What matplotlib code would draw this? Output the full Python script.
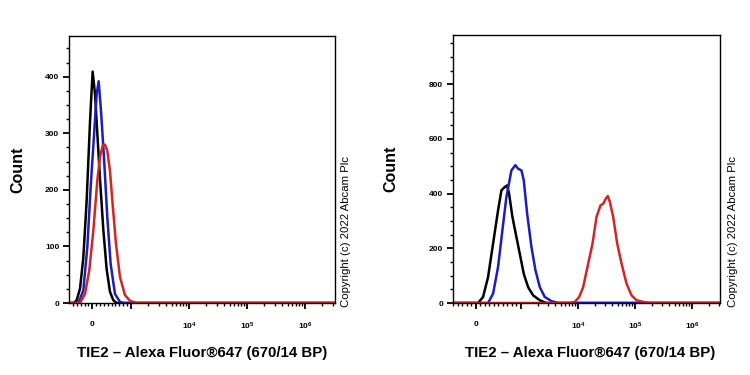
import matplotlib
matplotlib.use("Agg")
import matplotlib.pyplot as plt
import numpy as np

plt.rcParams['font.family'] = ['Liberation Sans', 'DejaVu Sans']
plt.rcParams['mathtext.fontset'] = 'custom'
plt.rcParams['mathtext.rm'] = 'Liberation Sans'
plt.rcParams['mathtext.bf'] = 'Liberation Sans:bold'

# ---- Data: left panel (fluorescence value, count) ----
left_black_x = [-602, -473, -404, -318, -232, -146, -59, 9, 70, 130, 199, 285, 371, 457, 543, 630, 3.29e6]
left_black_y = [0, 0, 5, 25, 80, 180, 320, 409, 370, 300, 220, 130, 60, 20, 5, 0, 0]
left_blue_x = [-602, -361, -232, -128, -42, 53, 113, 165, 225, 302, 388, 475, 587, 716, 819, 3.29e6]
left_blue_y = [0, 0, 22, 99, 205, 305, 369, 392, 340, 258, 152, 69, 16, 2, 0, 0]
left_red_x = [-602, -318, -189, -77, 27, 130, 199, 268, 328, 388, 457, 526, 612, 716, 845, 974, 1256, 3.29e6]
left_red_y = [0, 0, 16, 58, 128, 216, 258, 278, 280, 269, 234, 175, 105, 46, 14, 4, 0, 0]

# ---- Data: right panel ----
right_black_x = [-504, 52, 163, 274, 385, 496, 570, 644, 696, 740, 814, 903, 992, 1127, 1343, 1644, 2153, 2818, 3.1e6]
right_black_y = [0, 0, 22, 95, 217, 339, 412, 424, 430, 400, 315, 241, 168, 107, 58, 28, 10, 0, 0]
right_blue_x = [-504, 274, 385, 496, 592, 681, 792, 881, 940, 1026, 1127, 1291, 1537, 1806, 2153, 2634, 3448, 4511, 3.1e6]
right_blue_y = [0, 0, 34, 132, 266, 388, 485, 504, 491, 485, 449, 327, 205, 120, 58, 22, 7, 0, 0]
right_red_x = [-504, 7230, 8850, 10540, 12390, 15170, 18070, 21230, 24950, 27800, 30960, 33570, 36390,
               41590, 48980, 58340, 71300, 87300, 106900, 140000, 183200, 3.1e6]
right_red_y = [0, 0, 4, 22, 58, 144, 217, 315, 357, 363, 382, 391, 370,
               315, 217, 144, 71, 28, 10, 4, 0, 0]

xlabel = "TIE2 \u2013 Alexa Fluor\u00ae647 (670/14 BP)"
ylabel = "Count"
copyright_text = "Copyright (c) 2022 Abcam Plc"
xtick_vals = [0, 1e4, 1e5, 1e6]
xtick_labels = ['0', r'$\mathbf{10^{4}}$', r'$\mathbf{10^{5}}$', r'$\mathbf{10^{6}}$']

fig = plt.figure(figsize=(7.5, 3.75), dpi=100)
W, H = 750.0, 375.0

def make_ax(x0, x1, y0, y1):
    return fig.add_axes([x0 / W, 1 - y1 / H, (x1 - x0) / W, (y1 - y0) / H])

panels = [
    dict(box=(69, 335, 36, 303), linscale=0.6, xlim=(-602, 3.29e6), ylim=(0, 472),
         yticks=[0, 100, 200, 300, 400], yminor=25,
         curves=[(left_black_x, left_black_y, 'black'), (left_blue_x, left_blue_y, '#1c1cc0'),
                 (left_red_x, left_red_y, '#d42424')],
         ylab_x=18, copy_x=346, xlab_x=202),
    dict(box=(453, 720, 35, 303), linscale=0.711, xlim=(-504, 3.1e6), ylim=(0, 980),
         yticks=[0, 200, 400, 600, 800], yminor=50,
         curves=[(right_black_x, right_black_y, 'black'), (right_blue_x, right_blue_y, '#1c1cc0'),
                 (right_red_x, right_red_y, '#d42424')],
         ylab_x=391, copy_x=733, xlab_x=590),
]

for p in panels:
    x0, x1, y0, y1 = p['box']
    ax = make_ax(x0, x1, y0, y1)
    ax.set_xscale('symlog', linthresh=1000, linscale=p['linscale'])
    for xs, ys, c in p['curves']:
        ax.plot(xs, ys, color=c, lw=1.8, solid_joinstyle='round')
    ax.set_xlim(*p['xlim'])
    ax.set_ylim(*p['ylim'])
    ax.set_xticks(xtick_vals + [1000])
    ax.set_xticklabels(xtick_labels + [''])
    minors = list(range(-500, 1000, 100)) + [k * 10 ** e for e in (3, 4, 5) for k in range(2, 10)] + [2e6, 3e6]
    minors = [m for m in minors if p['xlim'][0] < m < p['xlim'][1]]
    ax.set_xticks(minors, minor=True)
    ax.set_yticks(p['yticks'])
    ax.set_yticks(np.arange(0, p['ylim'][1], p['yminor']), minor=True)
    ax.tick_params(axis='both', which='major', length=4, width=1.3, labelsize=6, pad=3, direction='out')
    ax.tick_params(axis='both', which='minor', length=2.5, width=1.0, direction='out')
    ax.tick_params(axis='x', which='major', pad=9)
    for lab in ax.get_xticklabels() + ax.get_yticklabels():
        lab.set_fontweight('bold')
    for s in ax.spines.values():
        s.set_linewidth(1.0)
    fig.text(p['ylab_x'] / W, 1 - ((y0 + y1) / 2) / H, ylabel, rotation=90, ha='center', va='center',
             fontsize=11.5, fontweight='bold')
    fig.text(p['copy_x'] / W, 1 - 307 / H, copyright_text, rotation=90, ha='center', va='bottom',
             fontsize=8.2)
    fig.text(p['xlab_x'] / W, 1 - 353 / H, xlabel, ha='center', va='center', fontsize=10.8, fontweight='bold')

fig.savefig('out.png', dpi=100)
